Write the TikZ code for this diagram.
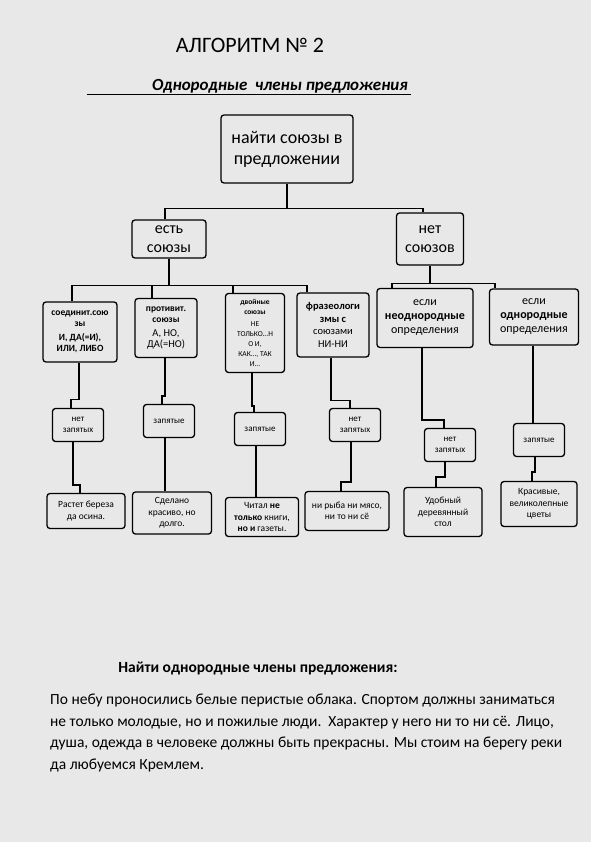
\documentclass[tikz,border=0pt]{standalone}
\usepackage{fontspec}
\setmainfont{Carlito}
\tikzset{%
    box/.style={rectangle, draw, rounded corners=3pt, line width=1.3pt, align=center, inner sep=1pt},
    link/.style={draw, line width=1.6pt},
    root/.style={box, minimum width=132pt, minimum height=68pt, font=\fontsize{18}{21}\selectfont},
    branch/.style={box, font=\fontsize{16}{19}\selectfont},
    kind/.style={box, font=\fontsize{9.5}{11}\selectfont},
    comma/.style={box, minimum width=51pt, minimum height=33pt, font=\fontsize{9}{11}\selectfont},
    sample/.style={box, font=\fontsize{9.5}{11.5}\selectfont}
}

\begin{document}
\begin{tikzpicture}[x=1pt, y=1pt]
\fill[black!9] (0,0) rectangle (591,-842);
\useasboundingbox (0,0) rectangle (591,-842);

\node[font=\fontsize{22}{26}\selectfont] (alg) at (250,-45) {АЛГОРИТМ № 2};
\node[font=\fontsize{17}{20}\selectfont\bfseries\itshape] (sub) at (280,-86) {Однородные\ \ члены предложения};
\draw[line width=1.2pt] ([xshift=-62pt,yshift=-4pt]sub.base west) -- ([yshift=-4pt]sub.base east);

\node[root] (find) at (287,-149) {найти союзы в\\предложении};
\node[branch, minimum width=74pt, minimum height=38pt] (yes) at (169,-239) {есть\\союзы};
\node[branch, minimum width=67pt, minimum height=52pt] (no) at (430,-239) {нет\\союзов};

\node[kind, minimum width=74pt, minimum height=60pt] (c1) at (80,-332)
    {\bfseries соединит.сою\\\bfseries зы\\[3pt]\bfseries И, ДА(=И),\\\bfseries ИЛИ, ЛИБО};
\node[kind, minimum width=62pt, minimum height=59pt] (c2) at (166,-328)
    {\bfseries противит.\\\bfseries союзы\\[3pt]\fontsize{10.5}{12}\selectfont А, НО,\\\fontsize{10.5}{12}\selectfont ДА(=НО)};
\node[kind, minimum width=59pt, minimum height=79pt, font=\fontsize{7.5}{10}\selectfont] (c3) at (255,-333)
    {\bfseries двойные\\\bfseries союзы\\[2pt]НЕ\\ТОЛЬКО...Н\\О И,\\КАК..., ТАК\\И...};
\node[kind, minimum width=72pt, minimum height=64pt, font=\fontsize{10.5}{12.5}\selectfont] (c4) at (333,-325)
    {\bfseries фразеологи\\\bfseries змы с\\союзами\\НИ-НИ};
\node[kind, minimum width=96pt, minimum height=59pt, font=\fontsize{12}{14}\selectfont] (c5) at (425,-318)
    {если\\\bfseries неоднородные\\определения};
\node[kind, minimum width=89pt, minimum height=56pt, font=\fontsize{12}{14}\selectfont] (c6) at (534,-317)
    {если\\\bfseries однородные\\определения};

\node[comma] (z1) at (78,-425) {нет\\запятых};
\node[comma] (z2) at (169,-421) {запятые};
\node[comma] (z3) at (260,-429) {запятые};
\node[comma] (z4) at (355,-425) {нет\\запятых};
\node[comma] (z5) at (450,-445) {нет\\запятых};
\node[comma] (z6) at (539,-440) {запятые};

\node[sample, minimum width=78pt, minimum height=35pt] (e1) at (86,-511) {Растет береза\\да осина.};
\node[sample, minimum width=79pt, minimum height=42pt] (e2) at (172,-513) {Сделано\\красиво, но\\долго.};
\node[sample, minimum width=73pt, minimum height=39pt] (e3) at (262,-517)
    {Читал \textbf{не}\\\textbf{только} книги,\\\textbf{но и} газеты.};
\node[sample, minimum width=84pt, minimum height=39pt] (e4) at (347,-511) {ни рыба ни мясо,\\ни то ни сё};
\node[sample, minimum width=78pt, minimum height=49pt] (e5) at (443,-512) {Удобный\\деревянный\\стол};
\node[sample, minimum width=76pt, minimum height=45pt] (e6) at (539,-504) {Красивые,\\великолепные\\цветы};

\draw[link] (find.south) -- ++(0,-25) coordinate (fork);
\draw[link] (fork) -| ([xshift=-4pt]yes.north);
\draw[link] (fork) -| ([xshift=-7pt]no.north);

\draw[link] (yes.south) -- ++(0,-27) coordinate (forkyes);
\foreach \n/\s in {c1/-8, c2/-14, c3/-22, c4/-26}
    \draw[link] (forkyes) -| ([xshift=\s pt]\n.north);
\draw[link] (no.south) -- ++(0,-18) coordinate (forkno);
\foreach \n/\s in {c5/-33, c6/-39}
    \draw[link] (forkno) -| ([xshift=\s pt]\n.north);

\foreach \a/\b/\sa/\h/\sb in {c1/z1/-1/37/-7, c2/z2/-1/38/-7, c3/z3/-3/33/-6,
        c4/z4/-2/43/-5, c5/z5/-3/72/-6, c6/z6/-1/60/-6,
        z1/e1/-5/43/-6, z2/e2/-4/30/-7, z3/e3/-4/30/-6,
        z4/e4/-4/40/-6, z5/e5/-5/15/-7, z6/e6/-4/15/-7}
    \draw[link] ([xshift=\sa pt]\a.south) -- ++(0,-\h) -| ([xshift=\sb pt]\b.north);

\node[font=\fontsize{15.5}{18}\selectfont\bfseries] (task) at (258,-668)
    {Найти однородные члены предложения:};
\node[font=\fontsize{15.5}{21.5}\selectfont, align=left, anchor=north west, inner sep=0pt] (text) at (50,-694)
    {По небу проносились белые перистые облака. Спортом должны заниматься\\
     не только молодые, но и пожилые люди.\ \ Характер у него ни то ни сё. Лицо,\\
     душа, одежда в человеке должны быть прекрасны. Мы стоим на берегу реки\\
     да любуемся Кремлем.};
\end{tikzpicture}
\end{document}
